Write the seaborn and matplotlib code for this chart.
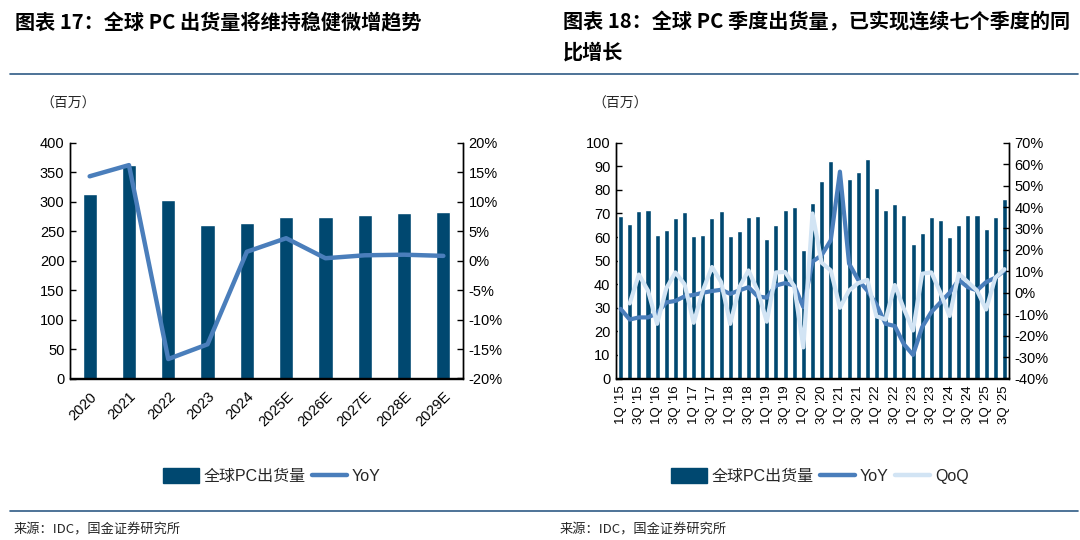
import numpy as np
import pandas as pd
import matplotlib
matplotlib.use("Agg")
import matplotlib.pyplot as plt
import seaborn as sns
from matplotlib.patches import Patch
from matplotlib.lines import Line2D
from matplotlib.ticker import FuncFormatter, MultipleLocator, FixedLocator

# ---------------- data ----------------
years = ["2020", "2021", "2022", "2023", "2024", "2025E", "2026E", "2027E", "2028E", "2029E"]
annual_shipments = [313, 362, 303, 261, 264, 274, 274, 277, 280, 282]
annual_yoy = [14.3, 16.2, -16.7, -14.2, 1.5, 3.8, 0.4, 0.9, 1.0, 0.8]

quarters = [
    "1Q15", "2Q15", "3Q15", "4Q15", "1Q16", "2Q16", "3Q16", "4Q16",
    "1Q17", "2Q17", "3Q17", "4Q17", "1Q18", "2Q18", "3Q18", "4Q18",
    "1Q19", "2Q19", "3Q19", "4Q19", "1Q20", "2Q20", "3Q20", "4Q20",
    "1Q21", "2Q21", "3Q21", "4Q21", "1Q22", "2Q22", "3Q22", "4Q22",
    "1Q23", "2Q23", "3Q23", "4Q23", "1Q24", "2Q24", "3Q24", "4Q24",
    "1Q25", "2Q25", "3Q25",
]
quarter_shipments = [
    68.8, 65.7, 71.0, 71.6, 60.9, 62.8, 68.1, 70.6,
    60.4, 61.0, 68.1, 71.0, 60.6, 62.4, 68.5, 68.9,
    59.1, 65.2, 71.3, 72.9, 54.4, 74.4, 83.7, 92.2,
    84.0, 84.6, 87.6, 92.9, 80.6, 71.3, 74.2, 69.2,
    56.9, 61.9, 68.5, 67.4, 59.8, 65.2, 69.2, 69.2,
    63.5, 68.5, 76.0,
]
quarter_yoy = [
    -7.5, -12.5, -11.5, -11.5, -9.5, -4.5, -3.8, -1.7,
    -1.0, 0.0, 0.8, 1.4, -0.5, 1.1, 2.6, -1.7,
    -2.3, 3.4, 4.5, 3.4, -6.7, 14.5, 17.5, 24.5,
    56.5, 13.6, 6.0, 1.0, -5.5, -14.5, -15.5, -24.0,
    -29.0, -16.0, -9.0, -4.5, 0.0, 6.0, 2.6, 1.1,
    5.0, 7.0, 10.4,
]
quarter_qoq = [
    np.nan, -5.0, 8.5, 1.0, -14.5, 2.0, 9.5, 4.0,
    -14.0, 1.0, 12.0, 5.0, -14.5, 2.6, 10.4, 1.0,
    -13.5, 9.5, 9.7, 3.0, -25.5, 37.0, 14.0, 10.4,
    -7.0, 1.0, 4.5, 6.0, -11.0, -12.5, 3.6, -7.5,
    -17.6, 8.9, 9.5, 0.0, -10.8, 8.9, 5.0, 1.0,
    -7.8, 7.0, 11.0,
]
quarter_tick_labels = [
    "1Q '15", "3Q '15", "1Q '16", "3Q '16", "1Q '17", "3Q '17", "1Q '18", "3Q '18",
    "1Q '19", "3Q '19", "1Q '20", "3Q '20", "1Q '21", "3Q '21", "1Q '22", "3Q '22",
    "1Q '23", "3Q '23", "1Q '24", "3Q '24", "1Q '25", "3Q '25",
]

title_left = "图表 17：全球 PC 出货量将维持稳健微增趋势"
title_right = "图表 18：全球 PC 季度出货量，已实现连续七个季度的同\n比增长"
unit_label = "（百万）"
source_label = "来源：IDC，国金证券研究所"
bar_label = "全球PC出货量"

# ---------------- style ----------------
sns.set_theme(style="white")
plt.rcParams["font.family"] = ["Liberation Sans", "Noto Sans CJK SC", "DejaVu Sans"]
plt.rcParams["axes.unicode_minus"] = False

BAR = "#004870"
YOY = "#4a7ebb"
QOQ = "#d2e4f4"
RULE = "#2f5b85"
CJK = ["Noto Sans CJK SC", "DejaVu Sans"]

fig = plt.figure(figsize=(10.8, 5.4), dpi=100)

def style_axes(ax, ax2):
    for a in (ax, ax2):
        a.set_facecolor("none")
        a.spines["top"].set_visible(False)
        for s in ("left", "right", "bottom"):
            a.spines[s].set_color("black")
            a.spines[s].set_linewidth(1.0)
        a.grid(False)
    ax.tick_params(axis="y", direction="in", length=4, width=1, labelsize=10.5,
                   colors="black", pad=4)
    ax2.tick_params(axis="y", direction="in", length=4, width=1, labelsize=10.5,
                    colors="black", pad=4)
    ax.set_xlabel("")
    ax.set_ylabel("")
    ax2.set_xlabel("")
    ax2.set_ylabel("")

pct = FuncFormatter(lambda v, p: f"{int(round(v))}%")

# ---------------- left chart ----------------
ax1 = fig.add_axes([70 / 1080, 1 - 378.5 / 540, 393 / 1080, 235.8 / 540])
df_a = pd.DataFrame({"year": years, "ship": annual_shipments, "yoy": annual_yoy,
                     "pos": np.arange(len(years))})
sns.barplot(data=df_a, x="year", y="ship", color=BAR, width=0.36, saturation=1,
            ax=ax1, zorder=2)
ax1b = ax1.twinx()
sns.lineplot(data=df_a, x="pos", y="yoy", color=YOY, linewidth=3.2, ax=ax1b,
             solid_joinstyle="round", solid_capstyle="round")
ax1.set_ylim(0, 400)
ax1.yaxis.set_major_locator(MultipleLocator(50))
ax1b.set_ylim(-20, 20)
ax1b.yaxis.set_major_locator(MultipleLocator(5))
ax1b.yaxis.set_major_formatter(pct)
ax1.set_xlim(-0.5, len(years) - 0.5)
style_axes(ax1, ax1b)
ax1.set_xticks(np.arange(len(years)))
ax1.set_xticklabels(years, rotation=45, ha="right", rotation_mode="anchor", fontsize=10.5)
ax1.xaxis.set_minor_locator(FixedLocator(np.arange(0.5, len(years) - 1, 1)))
ax1.tick_params(axis="x", which="major", length=0, pad=8, colors="black")
ax1.tick_params(axis="x", which="minor", direction="in", length=4, width=1, color="black")

# ---------------- right chart ----------------
ax2 = fig.add_axes([616 / 1080, 1 - 378.5 / 540, 393 / 1080, 235.8 / 540])
df_q = pd.DataFrame({"q": quarters, "ship": quarter_shipments, "yoy": quarter_yoy,
                     "qoq": quarter_qoq, "pos": np.arange(len(quarters))})
sns.barplot(data=df_q, x="q", y="ship", color=BAR, width=0.55, saturation=1,
            ax=ax2, zorder=2)
ax2b = ax2.twinx()
sns.lineplot(data=df_q, x="pos", y="yoy", color=YOY, linewidth=3.0, ax=ax2b,
             solid_joinstyle="round", solid_capstyle="round", zorder=3)
sns.lineplot(data=df_q.dropna(subset=["qoq"]), x="pos", y="qoq", color=QOQ, linewidth=3.0,
             ax=ax2b, solid_joinstyle="round", solid_capstyle="round", zorder=4)
ax2.set_ylim(0, 100)
ax2.yaxis.set_major_locator(MultipleLocator(10))
ax2b.set_ylim(-40, 70)
ax2b.yaxis.set_major_locator(MultipleLocator(10))
ax2b.yaxis.set_major_formatter(pct)
ax2.set_xlim(-0.5, len(quarters) - 0.5)
style_axes(ax2, ax2b)
ax2.set_xticks(np.arange(0, len(quarters), 2))
ax2.set_xticklabels(quarter_tick_labels, rotation=90, ha="center", va="top", fontsize=9.5)
ax2.xaxis.set_minor_locator(FixedLocator(np.arange(0.5, len(quarters) - 1, 1)))
ax2.tick_params(axis="x", which="major", length=0, pad=5, colors="black")
ax2.tick_params(axis="x", which="minor", direction="in", length=4, width=1, color="black")
ax2b.set_xlim(-0.5, len(quarters) - 0.5)

for a in (ax1b, ax2b):
    if a.get_legend():
        a.get_legend().remove()

# ---------------- titles / texts ----------------
fig.text(15 / 1080, 1 - 23 / 540, title_left, fontsize=14.5, fontweight="bold",
         family=CJK, ha="left", va="center", color="black")
fig.text(563 / 1080, 1 - 23 / 540, title_right, fontsize=14.5, fontweight="bold",
         family=CJK, ha="left", va="top", color="black", linespacing=1.55,
         transform=fig.transFigure)
# put right title so first line centred like left one
fig.texts[-1].set_y(1 - 11 / 540)

fig.lines.append(Line2D([10 / 1080, 1078 / 1080], [1 - 74 / 540, 1 - 74 / 540],
                        transform=fig.transFigure, color=RULE, linewidth=1.2))
fig.lines.append(Line2D([10 / 1080, 1078 / 1080], [1 - 511 / 540, 1 - 511 / 540],
                        transform=fig.transFigure, color=RULE, linewidth=1.2))

fig.text(40 / 1080, 1 - 104 / 540, unit_label, fontsize=10, family=CJK,
         ha="left", va="center")
fig.text(592 / 1080, 1 - 104 / 540, unit_label, fontsize=10, family=CJK,
         ha="left", va="center")

fig.text(14 / 1080, 1 - 530 / 540, source_label, fontsize=9.5, family=CJK,
         ha="left", va="center")
fig.text(560 / 1080, 1 - 530 / 540, source_label, fontsize=9.5, family=CJK,
         ha="left", va="center")

# ---------------- legends ----------------
h_bar = Patch(facecolor=BAR, edgecolor=BAR)
h_yoy = Line2D([], [], color=YOY, linewidth=3.2)
h_qoq = Line2D([], [], color=QOQ, linewidth=3.2)
fig.legend([h_bar, h_yoy], [bar_label, "YoY"], loc="center",
           bbox_to_anchor=(272 / 1080, 1 - 476 / 540), ncol=2, frameon=False,
           fontsize=11.5, handlelength=2.2, handleheight=1.1, handletextpad=0.3,
           columnspacing=0.4)
fig.legend([h_bar, h_yoy, h_qoq], [bar_label, "YoY", "QoQ"], loc="center",
           bbox_to_anchor=(820 / 1080, 1 - 476 / 540), ncol=3, frameon=False,
           fontsize=11.5, handlelength=2.2, handleheight=1.1, handletextpad=0.3,
           columnspacing=0.4)

fig.savefig("out.png", dpi=100)
